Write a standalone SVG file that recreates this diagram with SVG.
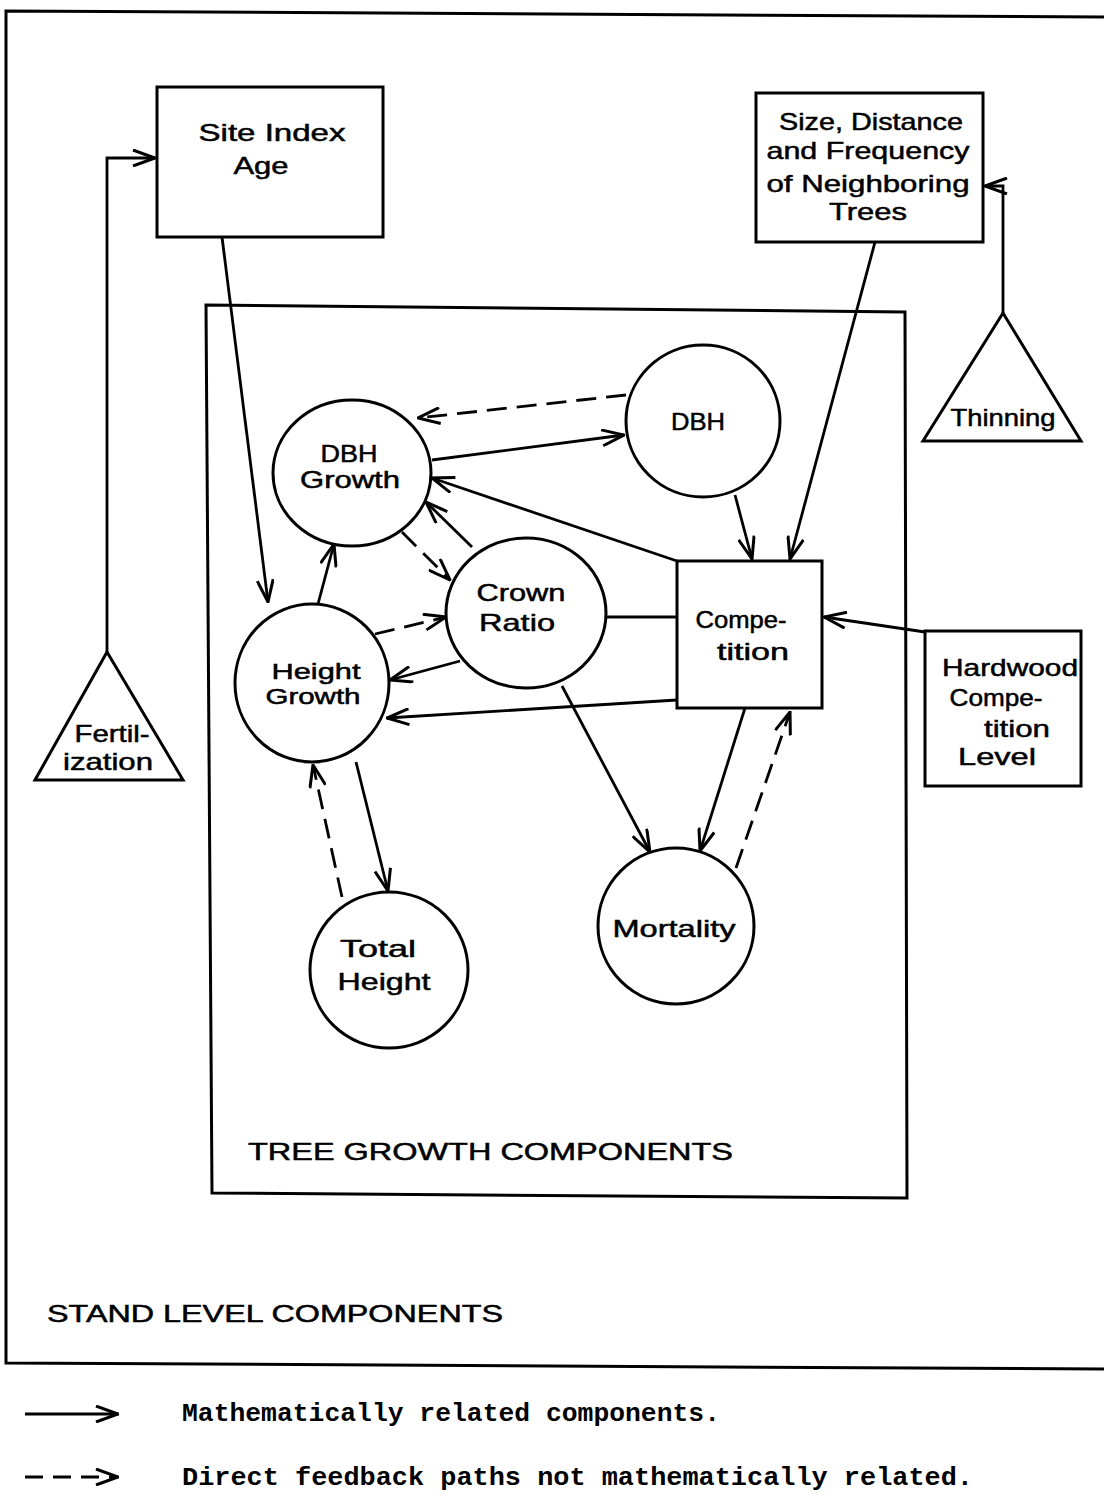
<svg xmlns="http://www.w3.org/2000/svg" width="1104" height="1496" viewBox="0 0 1104 1496">
<style>
.f{fill:none;stroke:#000;stroke-width:3}
.n{fill:#fff;stroke:#000;stroke-width:3}
.c{fill:none;stroke:#000;stroke-width:2.8}
.d{stroke-dasharray:20 10}
.t{font-family:"Liberation Sans",Arial,sans-serif;font-size:24px;fill:#000;stroke:#000;stroke-width:0.5;text-anchor:middle}
.s{font-size:22px}
.l{font-family:"Liberation Sans",Arial,sans-serif;font-size:24px;fill:#000;stroke:#000;stroke-width:0.5}
.m{font-family:"Liberation Mono","Courier New",monospace;font-size:25px;font-weight:bold;fill:#000}
</style>
<defs>
<marker id="a" viewBox="0 0 24 18" refX="23" refY="9" markerWidth="24" markerHeight="18" markerUnits="userSpaceOnUse" orient="auto">
<path d="M1,1 L23,9 L1,17" fill="none" stroke="#000" stroke-width="3"/>
</marker>
</defs>
<rect width="1104" height="1496" fill="#fff"/>
<g id="stand-level">
<polyline class="f" points="1104,17 6,11 6,1363 1104,1369"/>
<text class="l" x="47" y="1322" textLength="456" lengthAdjust="spacingAndGlyphs">STAND LEVEL  COMPONENTS</text>
</g>
<g id="tree-growth">
<polygon class="f" points="206,305 905,312 907,1198 212,1193"/>
<text class="l" x="248" y="1160" textLength="485" lengthAdjust="spacingAndGlyphs">TREE GROWTH COMPONENTS</text>
</g>
<g id="connectors">
<polyline class="c" points="107,652 107,158 155,158" marker-end="url(#a)"/>
<polyline class="c" points="1003,313 1003,186 985,186" marker-end="url(#a)"/>
<line class="c" x1="222" y1="237" x2="268" y2="602" marker-end="url(#a)"/>
<line class="c" x1="875" y1="242" x2="790" y2="559" marker-end="url(#a)"/>
<line class="c" x1="735" y1="495" x2="752" y2="559" marker-end="url(#a)"/>
<line class="c" x1="432" y1="460" x2="624" y2="435" marker-end="url(#a)"/>
<line class="c d" x1="626" y1="395" x2="418" y2="418" marker-end="url(#a)"/>
<line class="c" x1="677" y1="561" x2="432" y2="478" marker-end="url(#a)"/>
<line class="c" x1="472" y1="547" x2="426" y2="502" marker-end="url(#a)"/>
<line class="c d" x1="402" y1="532" x2="450" y2="580" marker-end="url(#a)"/>
<line class="c" x1="318" y1="604" x2="334" y2="544" marker-end="url(#a)"/>
<line class="c d" x1="375" y1="634" x2="446" y2="617" marker-end="url(#a)"/>
<line class="c" x1="460" y1="661" x2="390" y2="680" marker-end="url(#a)"/>
<line class="c" x1="606" y1="617" x2="677" y2="617"/>
<line class="c" x1="677" y1="700" x2="387" y2="718" marker-end="url(#a)"/>
<line class="c" x1="925" y1="632" x2="824" y2="617" marker-end="url(#a)"/>
<line class="c" x1="562" y1="686" x2="650" y2="852" marker-end="url(#a)"/>
<line class="c" x1="745" y1="708" x2="700" y2="851" marker-end="url(#a)"/>
<line class="c d" x1="736" y1="868" x2="790" y2="712" marker-end="url(#a)"/>
<line class="c" x1="356" y1="762" x2="388" y2="891" marker-end="url(#a)"/>
<line class="c d" x1="342" y1="897" x2="313" y2="765" marker-end="url(#a)"/>
</g>
<g id="site-index">
<rect class="n" x="157" y="87" width="226" height="150"/>
<text class="t" x="272" y="141" textLength="147" lengthAdjust="spacingAndGlyphs">Site Index</text>
<text class="t" x="261" y="174" textLength="55" lengthAdjust="spacingAndGlyphs">Age</text>
</g>
<g id="neighbors">
<rect class="n" x="756" y="93" width="227" height="149"/>
<text class="t" x="871" y="130" textLength="184" lengthAdjust="spacingAndGlyphs">Size, Distance</text>
<text class="t" x="868" y="159" textLength="203" lengthAdjust="spacingAndGlyphs">and Frequency</text>
<text class="t" x="868" y="192" textLength="203" lengthAdjust="spacingAndGlyphs">of Neighboring</text>
<text class="t" x="868" y="220" textLength="78" lengthAdjust="spacingAndGlyphs">Trees</text>
</g>
<g id="thinning">
<polygon class="n" points="1003,313 923,441 1081,441"/>
<text class="t" x="1003" y="426" textLength="105" lengthAdjust="spacingAndGlyphs">Thinning</text>
</g>
<g id="fertilization">
<polygon class="n" points="107,652 35,780 183,780"/>
<text class="t" x="112" y="742" textLength="75" lengthAdjust="spacingAndGlyphs">Fertil-</text>
<text class="t" x="108" y="770" textLength="90" lengthAdjust="spacingAndGlyphs">ization</text>
</g>
<g id="dbh-growth">
<ellipse class="n" cx="352" cy="473" rx="79" ry="73"/>
<text class="t" x="349" y="462" textLength="57" lengthAdjust="spacingAndGlyphs">DBH</text>
<text class="t" x="350" y="488" textLength="100" lengthAdjust="spacingAndGlyphs">Growth</text>
</g>
<g id="dbh">
<ellipse class="n" cx="703" cy="421" rx="77" ry="76"/>
<text class="t" x="698" y="430" textLength="54" lengthAdjust="spacingAndGlyphs">DBH</text>
</g>
<g id="crown-ratio">
<ellipse class="n" cx="526" cy="613" rx="80" ry="75"/>
<text class="t" x="521" y="601" textLength="89" lengthAdjust="spacingAndGlyphs">Crown</text>
<text class="t" x="517" y="631" textLength="76" lengthAdjust="spacingAndGlyphs">Ratio</text>
</g>
<g id="height-growth">
<ellipse class="n" cx="312" cy="683" rx="77" ry="79"/>
<text class="t s" x="316" y="679" textLength="89" lengthAdjust="spacingAndGlyphs">Height</text>
<text class="t s" x="313" y="704" textLength="95" lengthAdjust="spacingAndGlyphs">Growth</text>
</g>
<g id="competition">
<rect class="n" x="677" y="561" width="145" height="147"/>
<text class="t" x="741" y="628" textLength="91" lengthAdjust="spacingAndGlyphs">Compe-</text>
<text class="t" x="753" y="660" textLength="72" lengthAdjust="spacingAndGlyphs">tition</text>
</g>
<g id="hardwood">
<rect class="n" x="925" y="631" width="156" height="155"/>
<text class="t" x="1010" y="676" textLength="136" lengthAdjust="spacingAndGlyphs">Hardwood</text>
<text class="t" x="996" y="706" textLength="93" lengthAdjust="spacingAndGlyphs">Compe-</text>
<text class="t" x="1017" y="737" textLength="66" lengthAdjust="spacingAndGlyphs">tition</text>
<text class="t" x="997" y="765" textLength="78" lengthAdjust="spacingAndGlyphs">Level</text>
</g>
<g id="total-height">
<ellipse class="n" cx="389" cy="970" rx="79" ry="78"/>
<text class="t" x="378" y="957" textLength="76" lengthAdjust="spacingAndGlyphs">Total</text>
<text class="t" x="384" y="990" textLength="93" lengthAdjust="spacingAndGlyphs">Height</text>
</g>
<g id="mortality">
<ellipse class="n" cx="676" cy="926" rx="78" ry="78"/>
<text class="t" x="674" y="937" textLength="123" lengthAdjust="spacingAndGlyphs">Mortality</text>
</g>
<g id="legend">
<line class="f" x1="25" y1="1414" x2="118" y2="1414" marker-end="url(#a)"/>
<line class="f" x1="25" y1="1477" x2="118" y2="1477" stroke-dasharray="18 10" marker-end="url(#a)"/>
<text class="m" x="182" y="1421" textLength="538" lengthAdjust="spacingAndGlyphs">Mathematically related components.</text>
<text class="m" x="182" y="1485" textLength="791" lengthAdjust="spacingAndGlyphs">Direct feedback paths not mathematically related.</text>
</g>
</svg>
